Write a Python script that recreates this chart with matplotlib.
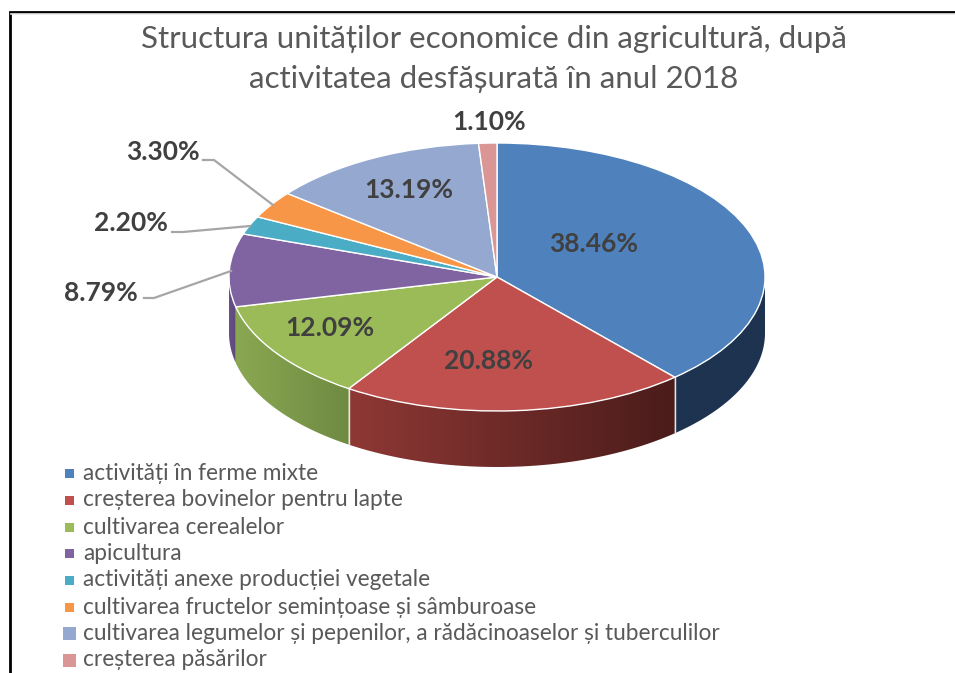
import numpy as np
import matplotlib
matplotlib.use("Agg")
import matplotlib.pyplot as plt
from matplotlib.colors import to_rgb
from matplotlib.patches import Rectangle, Polygon

plt.rcParams['font.family'] = ['Lato', 'Noto Sans', 'DejaVu Sans']

TITLE = "Structura unităților economice din agricultură, după\nactivitatea desfășurată în anul 2018"
categories = ["activități în ferme mixte", "creșterea bovinelor pentru lapte",
              "cultivarea cerealelor", "apicultura",
              "activități anexe producției vegetale",
              "cultivarea fructelor semințoase și sâmburoase",
              "cultivarea legumelor și pepenilor, a rădăcinoaselor și tuberculilor",
              "creșterea păsărilor"]
values = [38.46, 20.88, 12.09, 8.79, 2.20, 3.30, 13.19, 1.10]
colors = ["#4f81bd", "#c0504d", "#9bbb59", "#8064a2", "#4bacc6", "#f79646", "#95a9d0", "#d99694"]
# side-wall shading per slice, (left end, right end)
wall_colors = {0: ("#1d3350", "#1d3350"), 1: ("#8e3835", "#4a1c1a"),
               2: ("#8aa852", "#6f8a42"), 3: ("#664f85", "#5f4a7c")}
label_px = [(594, 244), (488, 361), (330, 328), (101, 293), (131, 223), (163, 152), (409, 190), (489, 122)]
leader_px = {3: [(144, 298), (154, 298), (231, 271)],
             4: [(172, 232), (183, 232), (250, 226)],
             5: [(203, 160), (214, 160), (273, 205)]}

W, H = 955, 673
CX, CY, RX, RY, DEPTH = 497, 277, 268, 134, 56

fig = plt.figure(figsize=(W / 100, H / 100), dpi=100)
ax = fig.add_axes([0, 0, 1, 1])

def px(x, y):
    return (x - CX) / RX, (CY - y) / RY

wedges, _ = ax.pie(values, colors=colors, startangle=90, counterclock=False, radius=1,
                   center=(0, 0), wedgeprops=dict(edgecolor="white", linewidth=1.0),
                   frame=False)
for w in wedges:
    w.set_zorder(5)

# side walls, from the same cumulative values
d = DEPTH / RY
edges = np.concatenate([[0], np.cumsum(values)]) / sum(values) * 2 * np.pi
for i, (a0, a1) in enumerate(zip(edges[:-1], edges[1:])):
    if i not in wall_colors:
        continue
    lo, hi = max(a0, np.pi / 2), min(a1, 3 * np.pi / 2)
    if hi <= lo:
        continue
    t = np.linspace(lo, hi, 200)
    xs, ys = np.sin(t), np.cos(t)
    outline = np.column_stack([np.r_[xs, xs[::-1]], np.r_[ys, ys[::-1] - d]])
    poly = Polygon(outline, closed=True, facecolor="none", edgecolor="none", transform=ax.transData)
    ax.add_patch(poly)
    cl, cr = map(np.array, map(to_rgb, wall_colors[i]))
    grad = np.linspace(0, 1, 256)[None, :, None] * (cr - cl)[None, None, :] + cl[None, None, :]
    im = ax.imshow(grad, extent=(xs.min(), xs.max(), ys.min() - d, ys.max()),
                   aspect='auto', zorder=3, interpolation='bilinear')
    im.set_clip_path(poly)
# white seams on the wall
for a in edges[1:3]:
    x, y = np.sin(a), np.cos(a)
    ax.plot([x, x], [y, y - d], color="#e8e4e4", lw=1.0, zorder=4)

ax.set_aspect('auto')
ax.set_xlim(-CX / RX, (W - CX) / RX)
ax.set_ylim((CY - H) / RY, CY / RY)
ax.axis('off')

# data labels
for v, p in zip(values, label_px):
    ax.text(*px(*p), f"{v:.2f}%", ha="center", va="center", fontsize=19,
            fontweight="bold", color="#404040", zorder=7)
for pts in leader_px.values():
    q = [px(*p) for p in pts]
    ax.plot(*zip(*q), color="#a6a6a6", lw=1.6, zorder=6, solid_joinstyle="round")

# title
ax.text(*px(494, 59), TITLE, ha="center", va="center", fontsize=22.6, color="#595959",
        linespacing=1.52, zorder=7)

# legend
leg_y = [473, 500, 527, 553, 580, 607, 633, 660]
for i, (name, c, y) in enumerate(zip(categories, colors, leg_y)):
    s = 9 if i < 6 else 13
    x0 = 69 - s / 2
    x1, y1 = px(x0, y + s / 2)
    x2, y2 = px(x0 + s, y - s / 2)
    ax.add_patch(Rectangle((x1, y1), x2 - x1, y2 - y1, color=c, lw=0, zorder=7))
    ax.text(*px(83, y), name, ha="left", va="center", fontsize=16.3, color="#595959", zorder=7)

# outer frame
ax.plot(*zip(px(9.5, H), px(9.5, 11.5), px(W, 11.5)), color="black", lw=2, zorder=8,
        solid_joinstyle="miter")
ax.plot(*zip(px(11, 13.5), px(W, 13.5)), color="#e6e6e6", lw=1.2, zorder=8)

fig.savefig("out.png", dpi=100, facecolor="white")
